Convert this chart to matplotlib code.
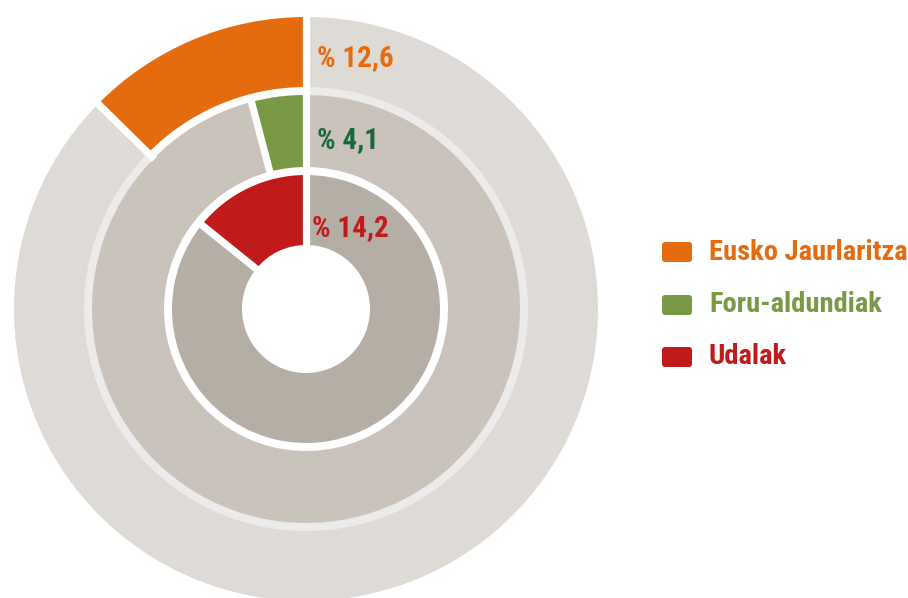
import numpy as np
import matplotlib
matplotlib.use('Agg')
import matplotlib.pyplot as plt
from matplotlib.patches import FancyBboxPatch

# shares (%) per ring, outer to inner
names = ['Eusko Jaurlaritza', 'Foru-aldundiak', 'Udalak']
shares = [12.6, 4.1, 14.2]
colors = ['#e46c0f', '#7a9944', '#c01a1a']
label_colors = ['#e46c0f', '#166b3a', '#c01a1a']
legend_colors = ['#e46c0f', '#7a9944', '#c01a1a']
rest_colors = ['#dedbd6', '#c9c3bc', '#b5aea4']
band_color = '#ecebe9'

font = ['Liberation Sans Narrow', 'DejaVu Sans Condensed', 'Roboto Condensed', 'Roboto']

W, H = 908, 598
fig = plt.figure(figsize=(W / 100, H / 100), dpi=100)
ax = fig.add_axes([0, 0, 1, 1])

cx, cy = 306, H - 309
# (outer radius, inner radius) of each ring in pixels
rings = [(292, 214), (214, 142), (134, 64)]

for i, (share, (ro, ri)) in enumerate(zip(shares, rings)):
    vals = [share, 100 - share]
    ax.pie(vals, radius=ro, center=(cx, cy), startangle=90, counterclock=True,
           colors=[colors[i], rest_colors[i]],
           wedgeprops=dict(width=ro - ri, linewidth=0), normalize=True)
    if i == 0:
        # light band between outer and middle ring (white under the coloured part)
        ax.pie(vals, radius=222, center=(cx, cy), startangle=90, counterclock=True,
               colors=['white', band_color],
               wedgeprops=dict(width=8, linewidth=0), normalize=True)

# white radial separators
for share, (ro, ri) in zip(shares, rings):
    for ang in [90, 90 + share / 100 * 360]:
        t = np.deg2rad(ang)
        r = np.array([ri - 1, ro + 2])
        ax.plot(cx + r * np.cos(t), cy + r * np.sin(t), color='white', lw=5.2,
                solid_capstyle='butt', zorder=5)

# percentage labels
lab_pos = [(317, H - 58), (317, H - 140), (312, H - 228)]
for share, (x, y), c in zip(shares, lab_pos, label_colors):
    txt = '% ' + f'{share:.1f}'.replace('.', ',')
    ax.text(x, y, txt, color=c, fontsize=21, fontweight='bold', family=font,
            ha='left', va='center', zorder=6)

# legend
leg_y = [H - 252, H - 305, H - 357]
for name, y, c in zip(names, leg_y, legend_colors):
    ax.add_patch(FancyBboxPatch((662, y - 10), 30, 20,
                                boxstyle='round,pad=0,rounding_size=3',
                                fc=c, ec='none'))
    ax.text(709, y, name, color=c, fontsize=20.5, fontweight='bold', family=font,
            ha='left', va='center')

ax.set_xlim(0, W)
ax.set_ylim(0, H)
ax.set_aspect('equal')
ax.axis('off')

fig.savefig('out.png', dpi=100)
